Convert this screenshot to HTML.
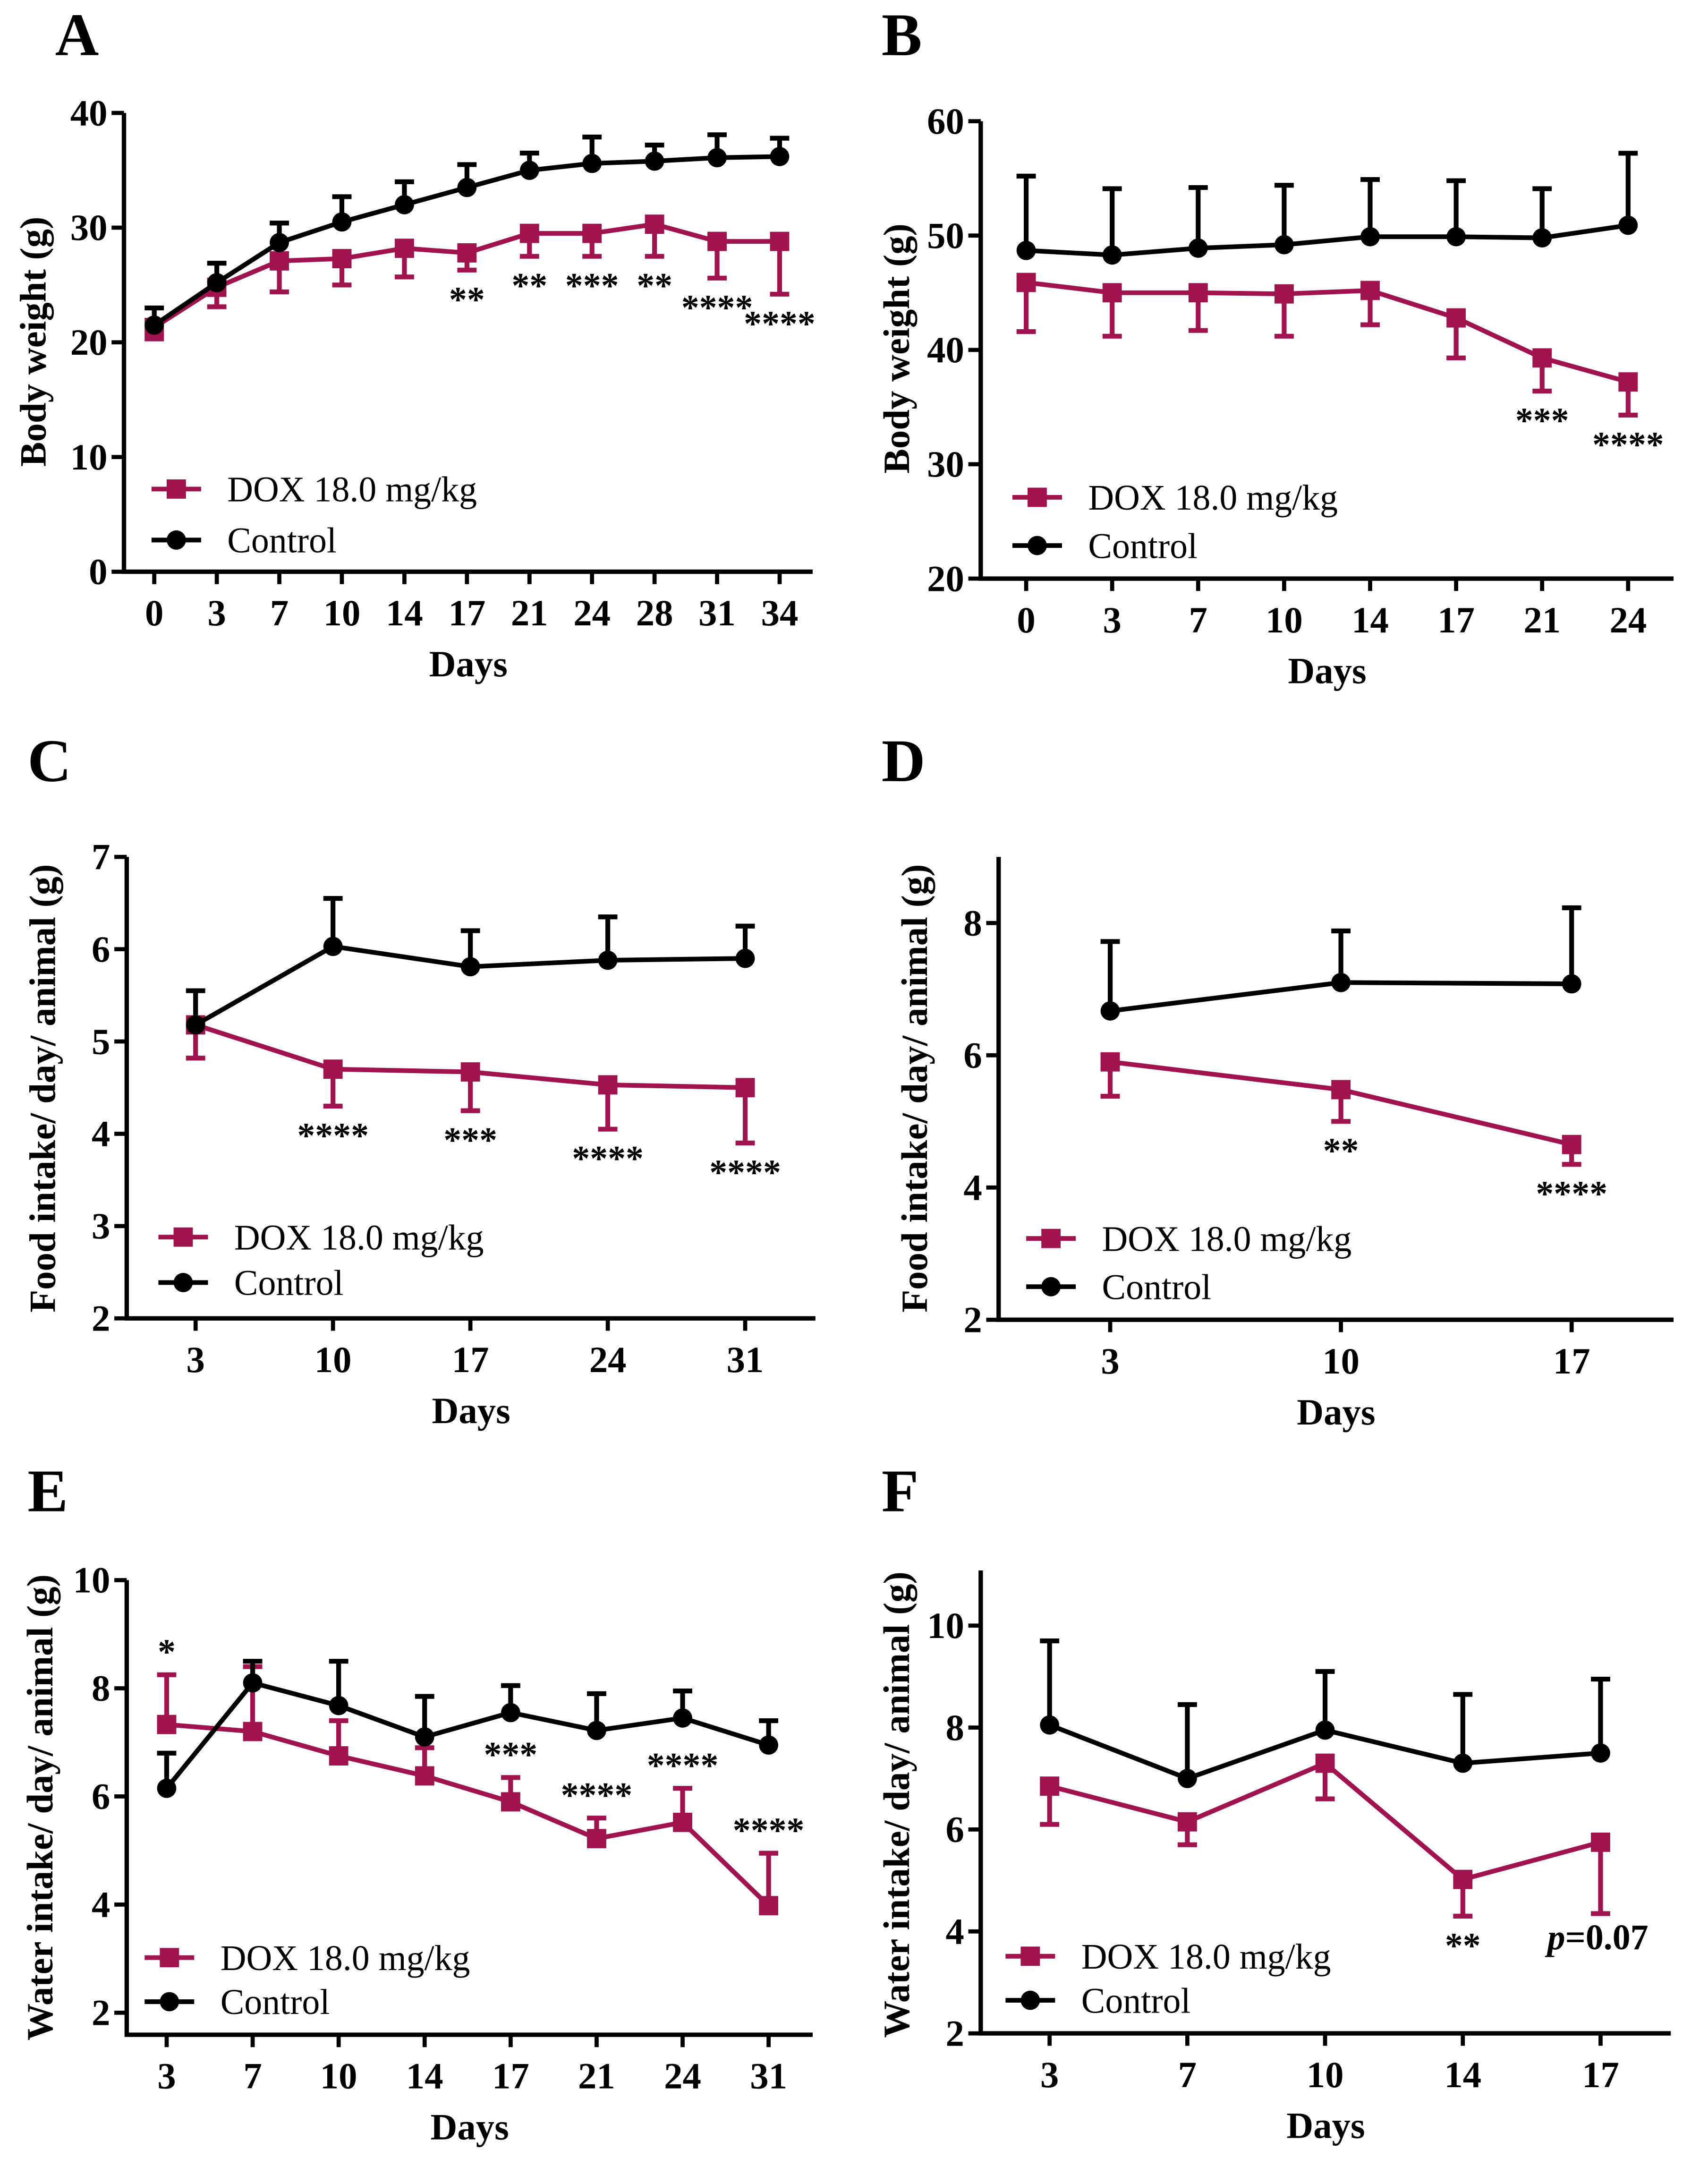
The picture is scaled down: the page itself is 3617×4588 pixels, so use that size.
<!DOCTYPE html>
<html><head><meta charset="utf-8"><style>
html,body{margin:0;padding:0;background:#fff}
svg{display:block}
text{font-family:"Liberation Serif",serif}
</style></head><body>
<svg id="fig" width="3617" height="4588" viewBox="0 0 1240 1573" preserveAspectRatio="none" xmlns="http://www.w3.org/2000/svg"></svg>
<script>
// Panel A
const aDays=["0","3","7","10","14","17","21","24","28","31","34"];
const aControl=[21.5,25.2,28.7,30.5,32,33.5,35,35.6,35.8,36.1,36.2];
const aControlErr=[23,26.9,30.4,32.7,34,35.5,36.5,37.9,37.2,38.1,37.8];
const aDox=[21.3,24.8,27.1,27.3,28.2,27.8,29.5,29.5,30.3,28.8,28.8];
const aDoxErr=[20.3,23.1,24.4,25,25.7,26.3,27.5,27.5,27.5,25.6,24.2];
const aStars=["","","","","","**","**","***","**","****","****"];
const aTicks=[0,10,20,30,40];
// Panel B
const bDays=["0","3","7","10","14","17","21","24"];
const bControl=[48.7,48.3,48.9,49.2,49.9,49.9,49.8,50.9];
const bControlErr=[55.2,54.1,54.2,54.4,54.9,54.8,54.1,57.2];
const bDox=[45.9,45,45,44.9,45.2,42.8,39.3,37.2];
const bDoxErr=[41.6,41.2,41.7,41.2,42.2,39.3,36.4,34.3];
const bStars=["","","","","","","***","****"];
const bTicks=[20,30,40,50,60];
// Panel C
const cDays=["3","10","17","24","31"];
const cControl=[5.18,6.03,5.81,5.88,5.9];
const cControlErr=[5.55,6.55,6.2,6.35,6.25];
const cDox=[5.18,4.7,4.67,4.53,4.5];
const cDoxErr=[4.82,4.3,4.25,4.05,3.9];
const cStars=["","****","***","****","****"];
const cTicks=[2,3,4,5,6,7];
// Panel D
const dDays=["3","10","17"];
const dControl=[6.67,7.1,7.08];
const dControlErr=[7.72,7.88,8.23];
const dDox=[5.9,5.48,4.65];
const dDoxErr=[5.38,5.0,4.35];
const dStars=["","**","****"];
const dTicks=[2,4,6,8];
// Panel E
const eDays=["3","7","10","14","17","21","24","31"];
const eControl=[6.15,8.1,7.68,7.1,7.55,7.22,7.45,6.95];
const eControlErr=[6.8,8.5,8.5,7.85,8.05,7.9,7.95,7.4];
const eDox=[7.33,7.2,6.75,6.38,5.9,5.22,5.52,3.98];
const eDoxErr=[8.25,8.4,7.4,6.9,6.35,5.6,6.15,4.95];
const eStars=["*","","","","***","****","****","****"];
const eTicks=[2,4,6,8,10];
// Panel F
const fDays=["3","7","10","14","17"];
const fControl=[8.05,7.0,7.95,7.3,7.5];
const fControlErr=[9.7,8.45,9.1,8.65,8.95];
const fDox=[6.85,6.15,7.3,5.02,5.75];
const fDoxErr=[6.1,5.7,6.6,4.3,4.35];
const fStars=["","","","**",""];
const fTicks=[2,4,6,8,10];

const NS="http://www.w3.org/2000/svg";
const svg=document.getElementById('fig');
const DOXC="#a0134e";
function mk(tag,attrs,parent,text){const e=document.createElementNS(NS,tag);for(const k in attrs)e.setAttribute(k,attrs[k]);if(text!==undefined)e.textContent=text;(parent||svg).appendChild(e);return e;}

function panel(o){
  const g=mk('g',{});
  
  
  const y=v=>o.y0+(v-o.vmin)/(o.vmax-o.vmin)*(o.y1-o.y0);
  const x=i=>o.xs0+i*(o.xs1-o.xs0)/(o.days.length-1);
  const L=mk('text',{x:o.lx,y:o.ly,'font-size':44,'font-weight':'bold'},g,o.id);
  
  // axes
  const ax=mk('path',{d:`M${o.ax} ${o.ytop}V${o.axy}H${o.axr}`,stroke:'#000','stroke-width':3.2,fill:'none'},g);
  
  o.ticks.forEach(t=>{
    mk('line',{x1:o.ax-9,x2:o.ax,y1:y(t),y2:y(t),stroke:'#000','stroke-width':3},g);
    const tl=mk('text',{x:o.ax-12,y:y(t)+9,'font-size':27,'font-weight':'bold','text-anchor':'end'},g,String(t));
    
  });
  o.days.forEach((d,i)=>{
    mk('line',{x1:x(i),x2:x(i),y1:o.axy,y2:o.axy+9,stroke:'#000','stroke-width':3},g);
    const tl=mk('text',{x:x(i),y:o.axy+39,'font-size':27,'font-weight':'bold','text-anchor':'middle'},g,d);
    
  });
  const xt=mk('text',{x:(o.ax+o.axr)/2,y:o.axy+76,'font-size':27,'font-weight':'bold','text-anchor':'middle'},g,'Days');
  
  const yt=mk('text',{x:0,y:0,'font-size':27,'font-weight':'bold','text-anchor':'middle',transform:`translate(${o.ylx},${o.yly}) rotate(-90)`},g,o.ylabel);
  
  // error bars
  function err(vals,ends,col,name){
    vals.forEach((v,i)=>{
      const e=mk('path',{d:`M${x(i)} ${y(v)}V${y(ends[i])}M${x(i)-7} ${y(ends[i])}H${x(i)+7}`,stroke:col,'stroke-width':3.5,fill:'none'},g);
      
    });
  }
  err(o.dox,o.doxErr,DOXC,'dox-error-bar');
  err(o.ctrl,o.ctrlErr,'#000','control-error-bar');
  const dl=mk('polyline',{points:o.dox.map((v,i)=>x(i)+','+y(v)).join(' '),stroke:DOXC,'stroke-width':3.4,fill:'none'},g);
  
  o.dox.forEach((v,i)=>{const m=mk('rect',{x:x(i)-7,y:y(v)-7,width:14,height:14,fill:DOXC},g);});
  const cl=mk('polyline',{points:o.ctrl.map((v,i)=>x(i)+','+y(v)).join(' '),stroke:'#000','stroke-width':3.4,fill:'none'},g);
  
  o.ctrl.forEach((v,i)=>{const m=mk('circle',{cx:x(i),cy:y(v),r:7,fill:'#000'},g);});
  // stars
  o.stars.forEach((s,i)=>{
    if(!s)return;
    const base=o.up?Math.min(y(o.dox[i]),y(o.doxErr[i]))-8:Math.max(y(o.dox[i]),y(o.doxErr[i]))+30;
    const st=mk('text',{x:x(i),y:base,'font-size':26,'font-weight':'bold','text-anchor':'middle'},g,s);
    
  });
  // legend
  const lg=mk('g',{},g);
  const e1=mk('g',{},lg);
  mk('line',{x1:o.legx,x2:o.legx+36,y1:o.legy,y2:o.legy,stroke:DOXC,'stroke-width':3.4},e1);
  mk('rect',{x:o.legx+11,y:o.legy-7,width:14,height:14,fill:DOXC},e1);
  mk('text',{x:o.legx+55,y:o.legy+9,'font-size':26},e1,'DOX 18.0 mg/kg');
  const e2=mk('g',{},lg);
  mk('line',{x1:o.legx,x2:o.legx+36,y1:o.legy+o.legdy,y2:o.legy+o.legdy,stroke:'#000','stroke-width':3.4},e2);
  mk('circle',{cx:o.legx+18,cy:o.legy+o.legdy,r:7,fill:'#000'},e2);
  mk('text',{x:o.legx+55,y:o.legy+o.legdy+9,'font-size':26},e2,'Control');
  return {g,x,y};
}
function sc(tMin,tMax,pMin,pMax){return {vmin:tMin,vmax:tMax,y0:pMin,y1:pMax};}

panel(Object.assign({id:'A',lx:40,ly:40,ax:90,axy:415,axr:590,ytop:82,xs0:112,xs1:566,days:aDays,ctrl:aControl,ctrlErr:aControlErr,dox:aDox,doxErr:aDoxErr,stars:aStars,ticks:aTicks,ylabel:'Body weight (g)',ylx:33,yly:248,legx:110,legy:355,legdy:37,up:false},sc(0,40,415,82)));
panel(Object.assign({id:'B',lx:640,ly:40,ax:712,axy:420,axr:1215,ytop:88,xs0:745,xs1:1182,days:bDays,ctrl:bControl,ctrlErr:bControlErr,dox:bDox,doxErr:bDoxErr,stars:bStars,ticks:bTicks,ylabel:'Body weight (g)',ylx:660,yly:253,legx:735,legy:361,legdy:35,up:false},sc(20,60,420,88)));
panel(Object.assign({id:'C',lx:20,ly:567,ax:92,axy:957,axr:592,ytop:622,xs0:142,xs1:541,days:cDays,ctrl:cControl,ctrlErr:cControlErr,dox:cDox,doxErr:cDoxErr,stars:cStars,ticks:cTicks,ylabel:'Food intake/ day/ animal (g)',ylx:40,yly:790,legx:115,legy:898,legdy:33,up:false},sc(2,7,957,622)));
panel(Object.assign({id:'D',lx:640,ly:567,ax:725,axy:958,axr:1215,ytop:622,xs0:806,xs1:1141,days:dDays,ctrl:dControl,ctrlErr:dControlErr,dox:dDox,doxErr:dDoxErr,stars:dStars,ticks:dTicks,ylabel:'Food intake/ day/ animal (g)',ylx:673,yly:790,legx:745,legy:899,legdy:35,up:false},sc(2,8,958,670)));
panel(Object.assign({id:'E',lx:20,ly:1097,ax:92,axy:1477,axr:590,ytop:1147,xs0:121,xs1:558,days:eDays,ctrl:eControl,ctrlErr:eControlErr,dox:eDox,doxErr:eDoxErr,stars:eStars,ticks:eTicks,ylabel:'Water intake/ day/ animal (g)',ylx:38,yly:1312,legx:105,legy:1421,legdy:32,up:true},sc(2,10,1461,1147)));
panel(Object.assign({id:'F',lx:640,ly:1097,ax:712,axy:1476,axr:1213,ytop:1140,xs0:762,xs1:1162,days:fDays,ctrl:fControl,ctrlErr:fControlErr,dox:fDox,doxErr:fDoxErr,stars:fStars,ticks:fTicks,ylabel:'Water intake/ day/ animal (g)',ylx:660,yly:1310,legx:730,legy:1420,legdy:32,up:false},sc(2,10,1476,1180)));
const p=mk('text',{x:1160,y:1415,'font-size':26,'font-weight':'bold','text-anchor':'middle'});


const pi=mk('tspan',{'font-style':'italic'},p,'p');
mk('tspan',{},p,'=0.07');
</script>
</body></html>
